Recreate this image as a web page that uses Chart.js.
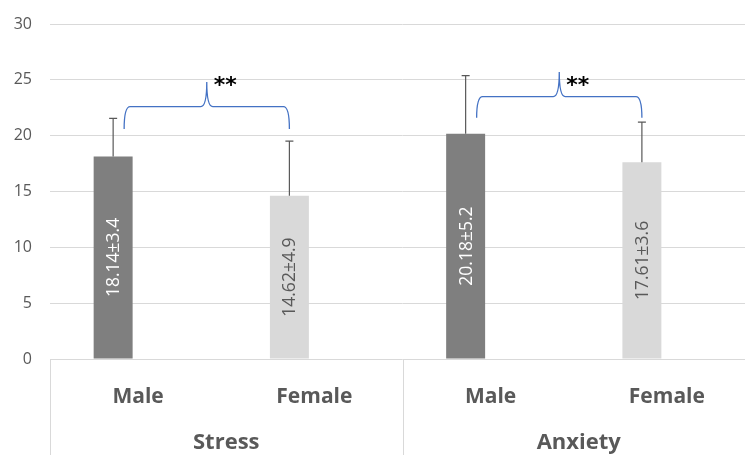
<!DOCTYPE html>
<html>
<head>
<meta charset="utf-8">
<script src="https://cdn.jsdelivr.net/npm/chart.js@4.4.1/dist/chart.umd.min.js"></script>
<style>
    html, body { margin: 0; padding: 0; background: #fff; overflow: hidden; }
    #wrap { width: 755px; height: 455px; }
</style>
</head>
<body>
<div id="wrap"><canvas id="myChart" width="755" height="455"></canvas></div>
<script>
// dane z wykresu
var categories = ['Male', 'Female', 'Male', 'Female'];
var groups = ['Stress', 'Anxiety'];
var means = [18.14, 14.62, 20.18, 17.61];
var sds = [3.4, 4.9, 5.2, 3.6];
var valueLabels = ['18.14±3.4', '14.62±4.9', '20.18±5.2', '17.61±3.6'];
var yTicks = [0, 5, 10, 15, 20, 25, 30];
var significance = ['**', '**'];

// klamry nad parami słupków (poziomy w jednostkach osi y)
var braces = [
    { from: 0, to: 1, base: 20.6, level: 22.6, peak: 24.8, label: significance[0] },
    { from: 2, to: 3, base: 21.6, level: 23.5, peak: 25.7, label: significance[1] }
];
var starLevel = 25.0;

var barColors = ['#7f7f7f', '#d9d9d9', '#7f7f7f', '#d9d9d9'];
var labelColors = ['#ffffff', '#595959', '#ffffff', '#595959'];
var gridColor = '#d9d9d9';
var textColor = '#595959';

var overlay = {
    id: 'overlay',
    afterDatasetsDraw: function(chart) {
        var ctx = chart.ctx;
        var y = chart.scales.y;
        var bars = chart.getDatasetMeta(0).data;

        // słupki błędów (tylko w górę)
        ctx.save();
        ctx.strokeStyle = '#595959';
        ctx.lineWidth = 1.2;
        bars.forEach(function(bar, i) {
            var top = y.getPixelForValue(means[i] + sds[i]);
            ctx.beginPath();
            ctx.moveTo(bar.x, bar.y);
            ctx.lineTo(bar.x, top);
            ctx.moveTo(bar.x - 4, top);
            ctx.lineTo(bar.x + 4, top);
            ctx.stroke();
        });
        ctx.restore();

        // etykiety wartości, obrócone
        ctx.save();
        ctx.font = '17.5px "Open Sans"';
        ctx.textAlign = 'center';
        ctx.textBaseline = 'middle';
        bars.forEach(function(bar, i) {
            ctx.save();
            ctx.translate(bar.x, (bar.y + bar.base) / 2);
            ctx.rotate(-Math.PI / 2);
            ctx.fillStyle = labelColors[i];
            ctx.fillText(valueLabels[i], 0, 1);
            ctx.restore();
        });
        ctx.restore();

        // klamry i gwiazdki
        ctx.save();
        ctx.strokeStyle = '#4472c4';
        ctx.lineWidth = 1.3;
        braces.forEach(function(b) {
            var x1 = bars[b.from].x + 11;
            var x2 = bars[b.to].x;
            var mid = (x1 + x2) / 2;
            var yb = y.getPixelForValue(b.base);
            var yh = y.getPixelForValue(b.level);
            var yp = y.getPixelForValue(b.peak);
            var r = 6;
            ctx.beginPath();
            ctx.moveTo(x1, yb);
            ctx.quadraticCurveTo(x1, yh, x1 + r, yh);
            ctx.lineTo(mid - r, yh);
            ctx.quadraticCurveTo(mid, yh, mid, yp);
            ctx.quadraticCurveTo(mid, yh, mid + r, yh);
            ctx.lineTo(x2 - r, yh);
            ctx.quadraticCurveTo(x2, yh, x2, yb);
            ctx.stroke();

            ctx.fillStyle = '#000';
            ctx.font = 'bold 22px "DejaVu Sans"';
            ctx.textAlign = 'left';
            ctx.textBaseline = 'alphabetic';
            ctx.fillText(b.label, mid + 7, y.getPixelForValue(starLevel) + 12);
        });
        ctx.restore();
    },
    afterDraw: function(chart) {
        var ctx = chart.ctx;
        var x = chart.scales.x;
        var area = chart.chartArea;
        var h = chart.height;
        var step = (area.right - area.left) / categories.length;

        ctx.save();
        ctx.strokeStyle = gridColor;
        ctx.lineWidth = 1;
        for (var g = 0; g <= groups.length; g++) {
            var px = Math.round(area.left + g * step * 2) + 0.5;
            ctx.beginPath();
            ctx.moveTo(px, area.bottom);
            ctx.lineTo(px, h);
            ctx.stroke();
        }
        ctx.fillStyle = textColor;
        ctx.font = 'bold 22px "Open Sans"';
        ctx.textAlign = 'center';
        ctx.textBaseline = 'middle';
        groups.forEach(function(name, g) {
            var cx = (x.getPixelForValue(g * 2) + x.getPixelForValue(g * 2 + 1)) / 2;
            ctx.fillText(name, cx, 443);
        });
        ctx.restore();
    }
};

document.addEventListener('DOMContentLoaded', function() {
    var cont = document.getElementById('myChart').getContext('2d');
    var myChart = new Chart(cont, {
        type: 'bar',
        data: {
            labels: categories,
            datasets: [{
                label: '',
                data: means,
                backgroundColor: barColors,
                borderWidth: 0,
                barPercentage: 0.78,
                categoryPercentage: 0.567
            }, {
                label: '',
                data: categories.map(function() { return null; }),
                barPercentage: 0.78,
                categoryPercentage: 0.567
            }]
        },
        options: {
            responsive: false,
            animation: false,
            layout: { padding: { top: 24, left: 0, right: 0, bottom: 0 } },
            scales: {
                x: {
                    grid: { display: false },
                    border: { display: false },
                    ticks: {
                        color: textColor,
                        font: { family: 'Open Sans', size: 21, weight: 'bold' },
                        padding: 17,
                        maxRotation: 0
                    },
                    afterFit: function(scale) { scale.height = 96; }
                },
                y: {
                    min: 0,
                    max: 30,
                    afterBuildTicks: function(scale) {
                        scale.ticks = yTicks.map(function(v) { return { value: v }; });
                    },
                    grid: { color: gridColor, drawTicks: false, lineWidth: 1 },
                    border: { display: false },
                    ticks: {
                        color: textColor,
                        font: { family: 'Open Sans', size: 16, lineHeight: 1 },
                        padding: 18
                    },
                    afterFit: function(scale) {
                        scale.width = 50;
                        scale.paddingTop = 0;
                    }
                }
            },
            plugins: {
                legend: { display: false },
                tooltip: { enabled: false }
            }
        },
        plugins: [overlay]
    });
});
</script>
</body>
</html>
